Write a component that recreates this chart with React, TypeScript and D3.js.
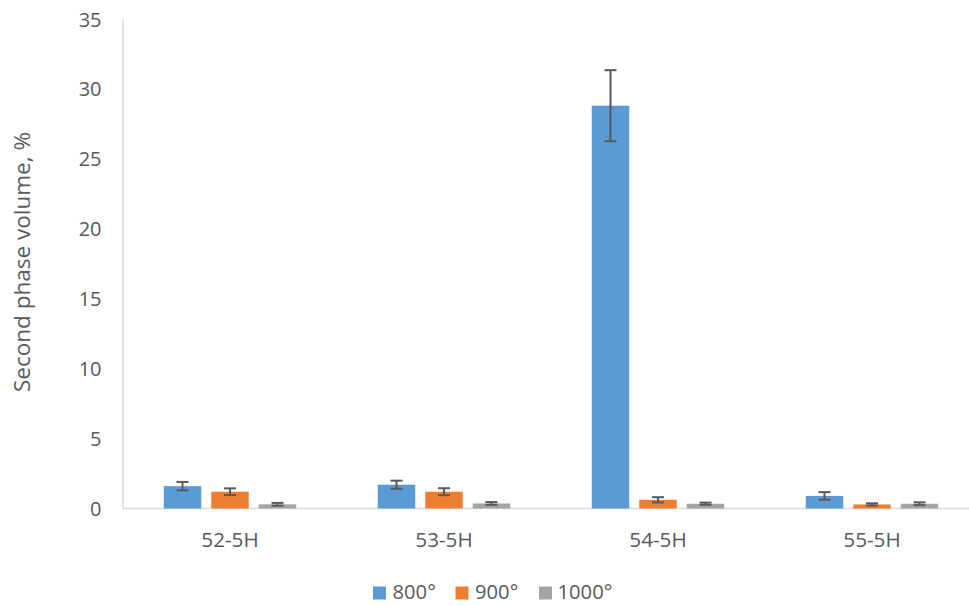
import React from "react";
import * as d3 from "d3";

const categories = ["52-5H", "53-5H", "54-5H", "55-5H"];
const seriesNames = ["800°", "900°", "1000°"];
const values800 = [1.6, 1.7, 28.8, 0.9];
const values900 = [1.2, 1.2, 0.62, 0.29];
const values1000 = [0.3, 0.36, 0.34, 0.34];
const err800 = [0.3, 0.29, 2.54, 0.27];
const err900 = [0.24, 0.25, 0.19, 0.08];
const err1000 = [0.1, 0.1, 0.08, 0.1];
const yTicks = [0, 5, 10, 15, 20, 25, 30, 35];
const colors = ["#5B9BD5", "#ED7D31", "#A5A5A5"];

const W = 969;
const H = 606;
const left = 123;
const bottom = 508.5;
const top = 19;
const font = "'Open Sans', 'Liberation Sans', sans-serif";

export default function App() {
  const x = d3.scaleBand<string>().domain(categories).range([left, left + 856]).paddingInner(0).paddingOuter(0);
  const y = d3.scaleLinear().domain([0, 35]).range([bottom, top]);
  const barW = 37.5;
  const step = 47.5;
  const allVals = [values800, values900, values1000];
  const allErr = [err800, err900, err1000];
  const legendX = [373, 455.5, 539];
  const legendTextX = [392.5, 475, 557.5];

  return (
    <svg width={W} height={H} style={{ position: "absolute", left: 0, top: 0, display: "block" }}>
      <rect x={0} y={0} width={W} height={H} fill="#fff" />
      <line x1={left} x2={left} y1={top} y2={bottom} stroke="#D9D9D9" strokeWidth={1.5} />
      <line x1={left} x2={W} y1={bottom} y2={bottom} stroke="#D9D9D9" strokeWidth={1.5} />
      {yTicks.map((t) => (
        <text key={t} x={101.5} y={y(t) + 7.5} textAnchor="end" fontFamily={font} fontSize={20} fill="#595959">
          {t}
        </text>
      ))}
      <text
        transform={`translate(30,262) rotate(-90)`}
        textAnchor="middle"
        fontFamily={font}
        fontSize={22.5}
        fill="#595959"
      >
        Second phase volume, %
      </text>
      {categories.map((c, i) => {
        const cx = x(c)! + x.bandwidth() / 2;
        return (
          <g key={c}>
            {allVals.map((vals, s) => {
              const bx = cx + (s - 1) * step - barW / 2;
              const v = vals[i];
              const e = allErr[s][i];
              const mx = bx + barW / 2;
              return (
                <g key={s}>
                  <rect x={bx} y={y(v)} width={barW} height={bottom - y(v)} fill={colors[s]} />
                  <line x1={mx} x2={mx} y1={y(v + e)} y2={y(v - e)} stroke="#595959" strokeWidth={2} />
                  <line x1={mx - 6} x2={mx + 6} y1={y(v + e)} y2={y(v + e)} stroke="#595959" strokeWidth={2} />
                  <line x1={mx - 6} x2={mx + 6} y1={y(v - e)} y2={y(v - e)} stroke="#595959" strokeWidth={2} />
                </g>
              );
            })}
            <text x={cx} y={547.3} textAnchor="middle" fontFamily={font} fontSize={20.7} fill="#595959">
              {c}
            </text>
          </g>
        );
      })}
      {seriesNames.map((n, s) => (
        <g key={n}>
          <rect x={legendX[s]} y={586.5} width={13} height={13} fill={colors[s]} />
          <text x={legendTextX[s]} y={599.3} fontFamily={font} fontSize={20.2} fill="#595959">
            {n}
          </text>
        </g>
      ))}
    </svg>
  );
}
